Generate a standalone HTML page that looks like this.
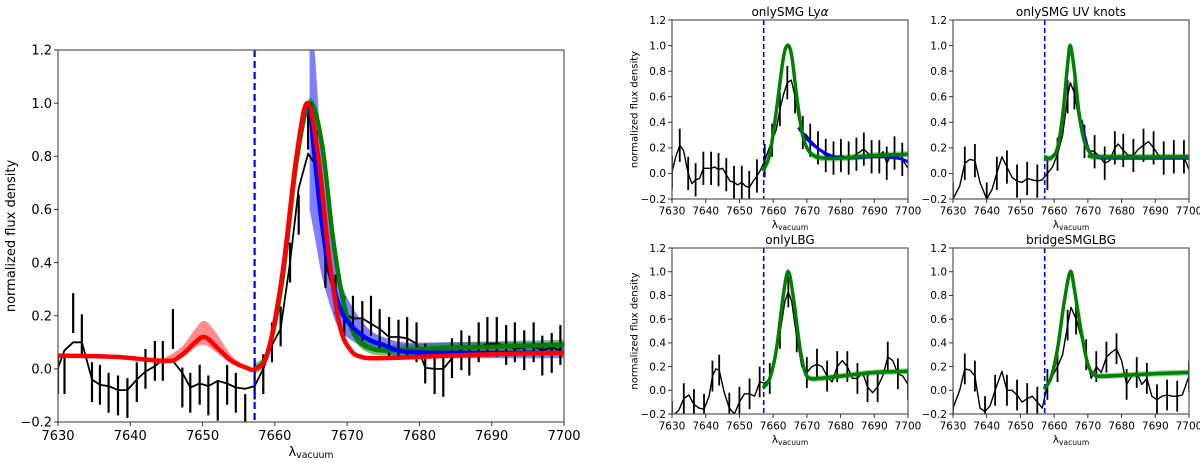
<!DOCTYPE html>
<html><head><meta charset="utf-8"><style>
body{margin:0;background:#fff;}
svg{display:block;font-family:"DejaVu Sans","Liberation Sans",sans-serif;}
</style></head><body>
<svg id="fig" width="1200" height="463" viewBox="0 0 1200 463" xmlns="http://www.w3.org/2000/svg"></svg>
<script>
// ---------- MAIN PANEL DATA ----------
const mainWave = [7630,7630.9,7632.1,7633.3,7634.7,7635.8,7637,7638.3,7639.6,7640.9,7642.1,7643.4,7644.5,7645.9,7647.2,7648.3,7649.6,7650.8,7652.1,7653.4,7654.6,7655.9,7657.2,7658.4,7659.6,7660.8,7662.1,7663.3,7664.6,7665.8,7667,7668.4,7669.6,7670.8,7672.1,7673.3,7674.5,7675.8,7677.1,7678.3,7679.6,7680.8,7682.1,7683.3,7684.5,7685.8,7686.9,7688.2,7689.4,7690.7,7692,7693.2,7694.5,7695.8,7697,7698.3,7699.5];
const mainFlux = [0.004,0.07,0.1,0.1,-0.04,-0.06,-0.065,-0.08,-0.08,-0.04,-0.01,0.01,0.035,0.03,-0.015,-0.07,-0.055,-0.065,-0.045,-0.055,-0.07,-0.075,-0.065,0.0,0.09,0.15,0.4,0.68,0.81,0.76,0.4,0.26,0.21,0.19,0.19,0.17,0.15,0.12,0.12,0.115,0.095,0.004,0.0,0.0,0.04,0.075,0.085,0.08,0.095,0.095,0.085,0.075,0.08,0.085,0.07,0.08,0.07];
const mainBar = [-0.02,-0.02,0.21,0.13,-0.05,-0.06,-0.09,-0.1,-0.11,-0.05,0.0,0.03,0.03,0.15,-0.07,-0.09,-0.06,-0.1,-0.12,-0.06,-0.09,-0.17,-0.04,-0.02,0.1,0.16,0.4,0.58,0.9,0.82,0.38,0.28,0.2,0.2,0.18,0.2,0.15,0.12,0.11,0.12,0.1,0.02,-0.02,-0.03,0.04,0.07,0.05,0.1,0.12,0.12,0.09,0.1,0.07,0.1,0.05,0.06,0.09];
const mainErr = 0.075;
const redW = [7630,7638,7645,7647,7649,7650.3,7652,7654,7656,7657.3,7659,7661,7663,7664.5,7666,7667.5,7669,7670.5,7672,7674,7680,7690,7700];
const redF = [0.05,0.045,0.03,0.05,0.1,0.12,0.08,0.03,0.005,0.0,0.06,0.35,0.8,1.0,0.8,0.42,0.16,0.07,0.045,0.04,0.045,0.055,0.06];
const redBandW = [7644,7647,7649,7650.3,7652,7654,7656];
const redBandHi = [0.03,0.08,0.15,0.18,0.13,0.05,0.01];
const redBandLo = [0.03,0.04,0.08,0.09,0.06,0.02,0.0];
const greenW = [7657.3,7659,7661,7663,7664.8,7666.5,7668,7669.5,7671,7673,7676,7685,7700];
const greenF = [0.0,0.06,0.33,0.78,1.0,0.85,0.5,0.25,0.13,0.08,0.07,0.08,0.09];
const blueW = [7664.8,7665.5,7666.5,7667.5,7668.5,7669.5,7671,7673,7675,7678,7685,7700];
const blueF = [1.0,0.8,0.55,0.38,0.27,0.2,0.15,0.11,0.09,0.065,0.06,0.06];
const blueBandHi = [1.4,1.2,0.8,0.56,0.4,0.3,0.22,0.15,0.12,0.1,0.1,0.1];
const blueBandLo = [0.6,0.5,0.35,0.25,0.17,0.13,0.1,0.07,0.06,0.04,0.04,0.04];
const vline = 7657.2;
const xTicks = [7630,7640,7650,7660,7670,7680,7690,7700];
const yTicks = [-0.2,0.0,0.2,0.4,0.6,0.8,1.0,1.2];
const yTickLabels = ["\u22120.2","0.0","0.2","0.4","0.6","0.8","1.0","1.2"];

// ---------- SMALL PANELS DATA ----------
const tlWave = [7630,7631.1,7632.3,7633.4,7634.8,7635.9,7637,7638.2,7639.3,7640.4,7641.6,7642.7,7643.8,7645,7646.1,7647.2,7648.4,7649.5,7650.7,7651.8,7652.9,7654.1,7655.2,7656.3,7657.5,7658.6,7659.7,7660.9,7662,7663.1,7664.2,7665.4,7666.5,7667.6,7668.8,7669.9,7671,7672.2,7673.3,7674.4,7675.6,7676.7,7677.9,7679,7680.1,7681.3,7682.4,7683.5,7684.7,7685.8,7686.9,7688.1,7689.2,7690.3,7691.5,7692.6,7693.7,7694.9,7696,7697.1,7698.3,7700];
const tlFlux = [0.01,0.13,0.22,0.18,0.0,-0.08,-0.05,-0.04,0.04,0.04,0.04,0.05,0.03,0.04,-0.01,-0.06,-0.07,-0.09,-0.07,-0.1,-0.11,-0.06,-0.02,0.03,0.1,0.18,0.26,0.34,0.5,0.62,0.71,0.73,0.6,0.42,0.32,0.3,0.26,0.23,0.2,0.17,0.14,0.13,0.12,0.13,0.14,0.13,0.12,0.13,0.15,0.17,0.19,0.16,0.13,0.13,0.13,0.17,0.08,0.14,0.16,0.13,0.11,0.04];
const tlGreenW = [7657,7659,7661,7663,7664.3,7665.5,7667,7668.5,7670,7672,7675,7680,7690,7700];
const tlGreenF = [0.02,0.15,0.5,0.9,1.0,0.92,0.6,0.33,0.2,0.14,0.12,0.12,0.14,0.15];
const tlBlueW = [7667.5,7670,7673,7677,7682,7690,7697,7700];
const tlBlueF = [0.36,0.27,0.2,0.14,0.12,0.13,0.12,0.09];

const trWave = [7630,7632,7633.5,7635,7636.5,7638,7640,7641.5,7643,7644.5,7646,7647.5,7649,7650.5,7652,7653.5,7655,7656.5,7658,7659.5,7661,7662.5,7664,7664.8,7666,7667.5,7669,7670.5,7672,7673.5,7675,7676.5,7678,7679,7680.5,7682,7683.5,7685,7686.5,7688,7689.5,7691,7692.5,7694,7695.5,7697,7698.5,7700];
const trFlux = [-0.2,-0.1,0.08,0.11,0.1,-0.07,-0.2,-0.13,0.0,0.13,0.05,-0.03,-0.06,-0.07,-0.04,-0.05,-0.06,-0.05,0.0,0.05,0.15,0.3,0.6,0.71,0.63,0.4,0.25,0.18,0.17,0.13,0.08,0.1,0.2,0.23,0.18,0.14,0.14,0.19,0.22,0.25,0.2,0.14,0.12,0.14,0.13,0.12,0.13,0.03];
const trGreenW = [7657,7659,7661,7662.5,7664,7664.8,7666,7667.5,7669,7671,7673,7700];
const trGreenF = [0.13,0.12,0.2,0.45,0.85,1.0,0.8,0.45,0.25,0.15,0.13,0.13];
const trBlueW = [7668,7670,7672,7680,7700];
const trBlueF = [0.42,0.2,0.13,0.12,0.12];

const blWave = [7630,7632,7633.5,7635,7636.5,7638,7639.5,7641,7642,7643,7644,7645.5,7647,7648.5,7650,7651.5,7653,7654.5,7656,7657.5,7659,7660.5,7662,7663.5,7664.5,7665.5,7667,7668.5,7670,7671.5,7673,7674.5,7676,7677.5,7679,7680.5,7682,7683.5,7685,7686.5,7688,7689.5,7691,7692.5,7694,7695.5,7697,7698.5,7700];
const blFlux = [-0.22,-0.17,-0.07,-0.04,-0.12,-0.15,-0.16,-0.05,0.12,0.18,0.17,-0.02,-0.15,-0.2,-0.1,-0.03,-0.03,-0.05,0.07,0.06,0.1,0.25,0.48,0.75,0.83,0.75,0.45,0.2,0.15,0.2,0.22,0.2,0.12,0.07,0.2,0.25,0.2,0.1,0.1,0.15,0.03,-0.02,0.03,0.12,0.28,0.25,0.14,0.12,0.05];
const blGreenW = [7657,7659,7661,7663,7664.5,7666,7668,7669.5,7671,7674,7680,7690,7700];
const blGreenF = [0.02,0.1,0.35,0.8,1.0,0.78,0.35,0.15,0.1,0.1,0.12,0.15,0.16];

const brWave = [7630,7632,7633.5,7635,7636.5,7638,7639.5,7641,7642.5,7644.5,7646,7647.5,7649,7650.5,7652,7653.5,7655,7656.5,7658,7659.5,7661,7662.5,7664,7665,7666.5,7668,7669.5,7671,7672.5,7674,7675.5,7677,7678.5,7680,7681.5,7683,7684.5,7686,7687.5,7689,7690.5,7692,7693.5,7695,7696.5,7698,7700];
const brFlux = [-0.15,0.0,0.18,0.17,0.12,-0.15,-0.18,-0.13,0.0,0.16,0.0,0.0,-0.04,-0.1,-0.07,-0.05,-0.1,-0.15,0.05,0.12,0.2,0.3,0.55,0.7,0.6,0.45,0.3,0.1,0.2,0.15,0.28,0.32,0.35,0.25,0.05,0.12,0.15,0.05,0.1,-0.05,-0.08,-0.05,-0.04,-0.05,-0.05,-0.04,0.12];
const brGreenW = [7657,7659,7661,7663,7664.8,7666,7668,7670,7672,7675,7690,7700];
const brGreenF = [0.01,0.1,0.35,0.75,1.0,0.85,0.5,0.22,0.13,0.12,0.14,0.15];
const panelErr = 0.13;

// ---------- DRAWING ----------
const NS = "http://www.w3.org/2000/svg";
const fig = document.getElementById('fig');
function mk(tag, attrs, parent){const e=document.createElementNS(NS,tag);for(const k in attrs)e.setAttribute(k,attrs[k]);(parent||fig).appendChild(e);return e;}
function smoothPath(pts){
  if(pts.length<2)return "";
  let d="M"+pts[0][0].toFixed(1)+","+pts[0][1].toFixed(1);
  for(let i=0;i<pts.length-1;i++){
    const p0=pts[Math.max(0,i-1)],p1=pts[i],p2=pts[i+1],p3=pts[Math.min(pts.length-1,i+2)];
    const c1x=p1[0]+(p2[0]-p0[0])/6,c1y=p1[1]+(p2[1]-p0[1])/6;
    const c2x=p2[0]-(p3[0]-p1[0])/6,c2y=p2[1]-(p3[1]-p1[1])/6;
    d+=" C"+c1x.toFixed(1)+","+c1y.toFixed(1)+" "+c2x.toFixed(1)+","+c2y.toFixed(1)+" "+p2[0].toFixed(1)+","+p2[1].toFixed(1);
  }
  return d;
}
function linePath(pts){return pts.map((p,i)=>(i?"L":"M")+p[0].toFixed(1)+","+p[1].toFixed(1)).join(" ");}

function makeAxes(name,L,T,R,B){
  const g=mk('g',{});
  
  
  const sx=v=>L+(v-7630)/70*(R-L);
  const sy=v=>B-(v+0.2)/1.4*(B-T);
  const cid='clip-'+name;
  const cp=mk('clipPath',{id:cid},g);mk('rect',{x:L,y:T,width:R-L,height:B-T},cp);
  const plot=mk('g',{'clip-path':'url(#'+cid+')'},g);
  return {g,plot,sx,sy,L,T,R,B};
}
function band(ax,name,w,hi,lo,color,op){
  const up=w.map((x,i)=>[ax.sx(x),ax.sy(hi[i])]);
  const dn=w.map((x,i)=>[ax.sx(x),ax.sy(lo[i])]).reverse();
  const d=smoothPath(up)+" L"+smoothPath(dn).slice(1)+" Z";
  const p=mk('path',{d:d,fill:color,'fill-opacity':op,stroke:'none'},ax.plot);
  
  
}
function curve(ax,name,w,f,color,width,smooth){
  const pts=w.map((x,i)=>[ax.sx(x),ax.sy(f[i])]);
  const p=mk('path',{d:smooth?smoothPath(pts):linePath(pts),fill:'none',stroke:color,'stroke-width':width,'stroke-linejoin':'round','stroke-linecap':'butt'},ax.plot);
  
  
}
function errbars(ax,name,w,f,err,width,step){
  const g=mk('g',{},ax.plot);
  
  
  w.forEach((x,i)=>{
    if(i%step!==0)return;
    const e=mk('line',{x1:ax.sx(x),x2:ax.sx(x),y1:ax.sy(f[i]+err),y2:ax.sy(f[i]-err),stroke:'#000','stroke-width':width},g);
    
    
  });
}
function vdash(ax,width,dash){
  const l=mk('line',{x1:ax.sx(vline),x2:ax.sx(vline),y1:ax.T,y2:ax.B,stroke:'#0000ff','stroke-width':width,'stroke-dasharray':dash},ax.plot);
  
  
}
function frame(ax,fs,showYLabel,title,ylfs){
  const g=ax.g;
  mk('rect',{x:ax.L,y:ax.T,width:ax.R-ax.L,height:ax.B-ax.T,fill:'none',stroke:'#555','stroke-width':1.2},g);
  const xt=mk('g',{},g);
  
  
  xTicks.forEach(v=>{
    const x=ax.sx(v);
    mk('line',{x1:x,x2:x,y1:ax.B,y2:ax.B+4,stroke:'#333','stroke-width':1},xt);
    const t=mk('text',{x:x,y:ax.B+5+fs,'text-anchor':'middle','font-size':fs,fill:'#000'},xt);
    t.textContent=v;
    
    
  });
  const yt=mk('g',{},g);
  
  
  yTicks.forEach((v,i)=>{
    const y=ax.sy(v);
    mk('line',{x1:ax.L-4,x2:ax.L,y1:y,y2:y,stroke:'#333','stroke-width':1},yt);
    const t=mk('text',{x:ax.L-6,y:y+fs*0.36,'text-anchor':'end','font-size':fs,fill:'#000'},yt);
    t.textContent=yTickLabels[i];
    
    
  });
  const xl=mk('text',{x:(ax.L+ax.R)/2,y:ax.B+2*fs+8,'text-anchor':'middle','font-size':fs,fill:'#000'},g);
  xl.innerHTML='λ<tspan font-size="'+(fs*0.72)+'" dy="2">vacuum</tspan>';
  
  
  if(showYLabel){
    const cx=ax.L-fs*3.3, cy=(ax.T+ax.B)/2;
    const yl=mk('text',{x:cx,y:cy,'text-anchor':'middle','font-size':ylfs||fs,fill:'#000',transform:'rotate(-90 '+cx+' '+cy+')'},g);
    yl.textContent='normalized flux density';
    
    
  }
  if(title){
    const tt=mk('text',{x:(ax.L+ax.R)/2,y:ax.T-4,'text-anchor':'middle','font-size':fs+1.5,fill:'#000'},g);
    tt.innerHTML=title;
    
    
  }
}

// main
const M=makeAxes('main-panel',58,50,564,422);
band(M,'red-bump-band',redBandW,redBandHi,redBandLo,'#ff0000',0.45);
band(M,'blue-model-band',blueW,blueBandHi,blueBandLo,'#0000ff',0.5);
band(M,'green-model-band',greenW,greenF.map(v=>v+0.02),greenF.map(v=>v-0.02),'#008000',0.5);
errbars(M,'main-error-bars',mainWave,mainBar,mainErr,2.2,1);
curve(M,'main-data-line',mainWave,mainFlux,'#000',1.8,false);
vdash(M,2.2,'7,4');
curve(M,'green-model',greenW,greenF,'#008000',4.5,true);
curve(M,'blue-model',blueW,blueF,'#0000ff',4.5,true);
curve(M,'red-model',redW,redF,'#ff0000',4.5,true);
frame(M,13,true,null,13);

function small(name,L,T,R,B,title,w,f,gw,gf,bw,bf,ylab){
  const A=makeAxes(name,L,T,R,B);
  errbars(A,name+'-error-bars',w,f,panelErr,1.8,2);
  curve(A,name+'-data-line',w,f,'#000',1.4,false);
  vdash(A,1.6,'5,3');
  band(A,name+'-green-band',gw,gf.map(v=>v+0.025),gf.map(v=>v-0.025),'#008000',0.4);
  if(bw)curve(A,name+'-blue-model',bw,bf,'#0000ff',3,true);
  curve(A,name+'-green-model',gw,gf,'#008000',3.5,true);
  frame(A,10.5,ylab,title,10);
}
small('panel-onlysmg-lya',672,20,908,199,'onlySMG Ly<tspan font-style="italic">α</tspan>',tlWave,tlFlux,tlGreenW,tlGreenF,tlBlueW,tlBlueF,true);
small('panel-onlysmg-uv',953,20,1189,199,'onlySMG UV knots',trWave,trFlux,trGreenW,trGreenF,trBlueW,trBlueF,false);
small('panel-onlylbg',672,248,908,414,'onlyLBG',blWave,blFlux,blGreenW,blGreenF,null,null,true);
small('panel-bridge',953,248,1189,414,'bridgeSMGLBG',brWave,brFlux,brGreenW,brGreenF,null,null,false);
</script>
</body></html>
